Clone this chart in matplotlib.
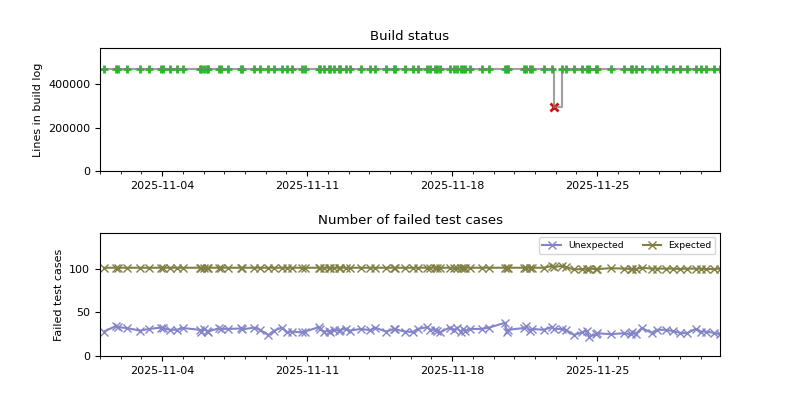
import numpy as np
import pandas as pd
import matplotlib
matplotlib.use('Agg')
import matplotlib.pyplot as plt
import matplotlib.dates as mdates

plt.rcParams['font.size'] = 8

# build timestamps
times = [
    "2025-11-01 04:38", "2025-11-01 18:53", "2025-11-01 20:51", "2025-11-02 07:17",
    "2025-11-02 22:21", "2025-11-03 08:46", "2025-11-03 23:01", "2025-11-04 00:39",
    "2025-11-04 09:06", "2025-11-04 17:13", "2025-11-05 00:10", "2025-11-05 19:17",
    "2025-11-05 20:40", "2025-11-06 01:04", "2025-11-06 04:00", "2025-11-06 05:28",
    "2025-11-06 18:27", "2025-11-06 19:50", "2025-11-07 04:18", "2025-11-07 19:42",
    "2025-11-07 21:06", "2025-11-08 10:25", "2025-11-08 17:23", "2025-11-09 03:00",
    "2025-11-09 09:36", "2025-11-09 18:31", "2025-11-10 01:14", "2025-11-10 06:06",
    "2025-11-10 17:41", "2025-11-10 21:31", "2025-11-11 13:22", "2025-11-11 14:32",
    "2025-11-11 19:31", "2025-11-12 01:19", "2025-11-12 02:50", "2025-11-12 07:07",
    "2025-11-12 12:20", "2025-11-12 14:04", "2025-11-12 20:47", "2025-11-13 01:39",
    "2025-11-13 14:10", "2025-11-14 00:49", "2025-11-14 06:37", "2025-11-14 19:22",
    "2025-11-15 04:52", "2025-11-15 06:22", "2025-11-15 17:22", "2025-11-16 02:25",
    "2025-11-16 08:05", "2025-11-16 19:26", "2025-11-16 22:41", "2025-11-17 04:29",
    "2025-11-17 06:27", "2025-11-17 09:55", "2025-11-17 20:56", "2025-11-18 02:43",
    "2025-11-18 05:16", "2025-11-18 10:01", "2025-11-18 12:55", "2025-11-18 15:28",
    "2025-11-18 20:41", "2025-11-19 10:01", "2025-11-19 18:43", "2025-11-20 13:14",
    "2025-11-20 15:12", "2025-11-20 17:03", "2025-11-21 10:55", "2025-11-21 13:56",
    "2025-11-21 17:52", "2025-11-21 20:11", "2025-11-22 10:05", "2025-11-22 19:27",
    "2025-11-22 21:46", "2025-11-23 07:37", "2025-11-23 11:40", "2025-11-23 21:10",
    "2025-11-24 06:12", "2025-11-24 12:00", "2025-11-24 14:33", "2025-11-24 22:39",
    "2025-11-25 00:23", "2025-11-25 15:28", "2025-11-26 07:06", "2025-11-26 15:13",
    "2025-11-26 16:57", "2025-11-26 20:26", "2025-11-27 03:44", "2025-11-27 15:12",
    "2025-11-27 21:00", "2025-11-28 07:25", "2025-11-28 15:32", "2025-11-29 00:00",
    "2025-11-29 07:45", "2025-11-29 17:57", "2025-11-29 23:45", "2025-11-30 05:33",
    "2025-11-30 15:22", "2025-11-30 21:46",
]

fail_index = 72
log_lines = [470000] * len(times)
log_lines[fail_index] = 294000
success = [True] * len(times)
success[fail_index] = False

unexpected = [
    28, 34.5, 33, 32, 29, 31, 32.5, 32, 30, 30, 32, 30, 28, 31, 29, 28,
    32, 31, 31, 31.5, 30.5, 32.5, 30, 24, 29, 32.5, 27, 28, 27, 28, 33, 31,
    28, 29, 27, 30, 29, 30, 31, 29, 31, 29.5, 32.5, 28, 31, 30.5, 28, 27.5,
    31, 33, 30, 30, 29, 27, 32.5, 30, 32, 28, 31, 29, 31, 31, 32.5, 38,
    28, 30, 32, 34, 29, 31, 30, 33, 31, 31, 30, 24, 27, 29, 22, 25,
    26, 25, 26, 25, 27, 25, 32, 26.5, 30, 30, 28.5, 26.5, 26, 31, 28, 28,
    26.5, 25,
]
expected = [101] * 70 + [101, 103, 102, 103, 102, 99, 99.5, 99, 100, 99.5,
                         99.5, 100.5, 100, 99.5, 99.5, 99.5, 101, 100, 100, 100,
                         100, 99.5, 100, 100, 100, 99.5, 99.5, 100]

t = pd.to_datetime(times)
log_lines = np.array(log_lines)
success = np.array(success)

fig, (ax1, ax2) = plt.subplots(2, 1, figsize=(8, 4))
fig.subplots_adjust(hspace=0.5)

# markers first, grey step line over them
ax1.plot(t[success], log_lines[success], '+', color='#22bb22', ms=5.5, mew=2, zorder=2)
ax1.plot(t[~success], log_lines[~success], 'x', color='#cc1111', ms=6, mew=2, zorder=2)
ax1.plot(t, log_lines, color='grey', lw=1.5, alpha=0.75, drawstyle='steps-post', zorder=3)
ax1.set_ylim(0, log_lines.max() * 1.2)
ax1.set_ylabel('Lines in build log')
ax1.set_title('Build status')

ax2.plot(t, unexpected, marker='x', color='#8484c8', lw=1.5, ms=6, label='Unexpected')
ax2.plot(t, expected, marker='x', color='#808044', lw=1.5, ms=6, label='Expected')
ax2.set_ylim(0, 141)
ax2.set_ylabel('Failed test cases')
ax2.set_title('Number of failed test cases')
ax2.legend(loc='upper right', ncol=2, fontsize='small')

for ax in (ax1, ax2):
    ax.set_xlim(pd.Timestamp('2025-11-01 00:00'), pd.Timestamp('2025-11-30 22:20'))
    ax.xaxis.set_major_locator(mdates.WeekdayLocator(byweekday=mdates.TU))
    ax.xaxis.set_minor_locator(mdates.DayLocator())
    ax.xaxis.set_major_formatter(mdates.DateFormatter('%Y-%m-%d'))

fig.savefig('out.png', dpi=100)
